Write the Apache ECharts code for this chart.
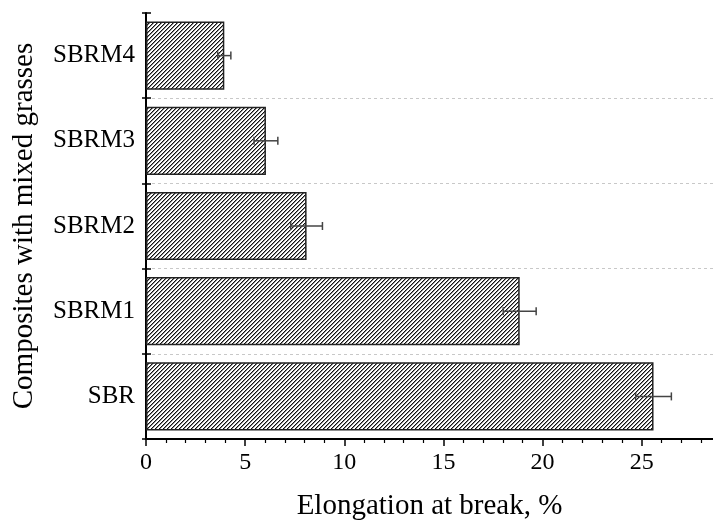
<!DOCTYPE html>
<html>
<head>
<meta charset="utf-8">
<script src="https://cdn.jsdelivr.net/npm/echarts@6/dist/echarts.min.js"></script>
<style>
html,body{margin:0;padding:0;background:#fff;}
#chart{width:713px;height:526px;}
</style>
</head>
<body>
<div id="chart"></div>
<script>
var categories = ['SBR', 'SBRM1', 'SBRM2', 'SBRM3', 'SBRM4'];
var values = [25.6, 18.85, 8.1, 6.05, 3.95];
var errors = [0.9, 0.83, 0.8, 0.6, 0.33];
var xTicks = [0, 5, 10, 15, 20, 25];
var xMinorTicks = [1, 2, 3, 4, 6, 7, 8, 9, 11, 12, 13, 14, 16, 17, 18, 19, 21, 22, 23, 24, 26, 27, 28];

var FONT = "'Liberation Serif', 'Times New Roman', serif";

function hatch() {
  var c = document.createElement('canvas');
  c.width = 4; c.height = 4;
  var ctx = c.getContext('2d');
  ctx.fillStyle = '#fff';
  ctx.fillRect(0, 0, 4, 4);
  ctx.fillStyle = '#111';
  for (var i = 0; i < 4; i++) ctx.fillRect(i, 3 - i, 1, 1);
  ctx.fillStyle = 'rgba(0,0,0,0.45)';
  for (var j = 0; j < 4; j++) ctx.fillRect(j, (4 - j) % 4, 1, 1);
  return c;
}

var chart = echarts.init(document.getElementById('chart'), null, {renderer: 'canvas'});
var XMAX = 28.6;

chart.setOption({
  animation: false,
  grid: {left: 146, top: 13, right: 0, bottom: 81, containLabel: false},
  xAxis: [{
    type: 'value', min: 0, max: XMAX, position: 'bottom',
    name: 'Elongation at break, %', nameLocation: 'middle', nameGap: 53,
    nameTextStyle: {fontFamily: FONT, fontSize: 29, color: '#000'},
    axisLine: {show: true, lineStyle: {color: '#000', width: 2}},
    axisTick: {show: true, length: 7, customValues: xTicks, lineStyle: {color: '#000', width: 1.5}},
    axisLabel: {show: true, customValues: xTicks, margin: 12, fontFamily: FONT, fontSize: 24, color: '#000'},
    splitLine: {show: false}
  }, {
    type: 'value', min: 0, max: XMAX, position: 'bottom', gridIndex: 0,
    axisLine: {show: false},
    axisTick: {show: true, length: 4, customValues: xMinorTicks, lineStyle: {color: '#000', width: 1.2}},
    axisLabel: {show: false},
    splitLine: {show: false}
  }],
  yAxis: [{
    type: 'category', data: categories, position: 'left',
    name: 'Composites with mixed grasses', nameLocation: 'middle', nameGap: 107, nameRotate: 90,
    nameTextStyle: {fontFamily: FONT, fontSize: 29, color: '#000'},
    axisLine: {show: true, lineStyle: {color: '#000', width: 2}},
    axisTick: {show: true, length: 4, lineStyle: {color: '#000', width: 1.5}},
    axisLabel: {margin: 11, fontFamily: FONT, fontSize: 25, color: '#000'},
    splitLine: {show: true, showMinLine: false, showMaxLine: false, lineStyle: {color: '#c8c8c8', width: 1, type: [3, 3]}}
  }, {
    type: 'category', data: categories, position: 'left', offset: 0,
    axisLine: {show: false},
    axisTick: {show: true, inside: true, length: 5, lineStyle: {color: '#000', width: 1.5}},
    axisLabel: {show: false},
    splitLine: {show: false}
  }],
  series: [{
    type: 'bar', xAxisIndex: 0, yAxisIndex: 0,
    data: values, barWidth: '80%',
    itemStyle: {color: {image: hatch(), repeat: 'repeat'}, borderColor: '#222', borderWidth: 1.5}
  }, {
    type: 'custom', xAxisIndex: 0, yAxisIndex: 0,
    data: categories.map(function (c, i) { return [values[i] - errors[i], values[i] + errors[i], i]; }),
    encode: {x: [0, 1], y: 2},
    renderItem: function (params, api) {
      var lo = api.coord([api.value(0), api.value(2)]);
      var hi = api.coord([api.value(1), api.value(2)]);
      var h = 4;
      var st = {stroke: '#444', lineWidth: 1.5};
      return {
        type: 'group',
        children: [
          {type: 'line', shape: {x1: lo[0], y1: lo[1], x2: hi[0], y2: hi[1]}, style: st},
          {type: 'line', shape: {x1: lo[0], y1: lo[1] - h, x2: lo[0], y2: lo[1] + h}, style: st},
          {type: 'line', shape: {x1: hi[0], y1: hi[1] - h, x2: hi[0], y2: hi[1] + h}, style: st}
        ]
      };
    },
    z: 5
  }]
});
</script>
</body>
</html>
